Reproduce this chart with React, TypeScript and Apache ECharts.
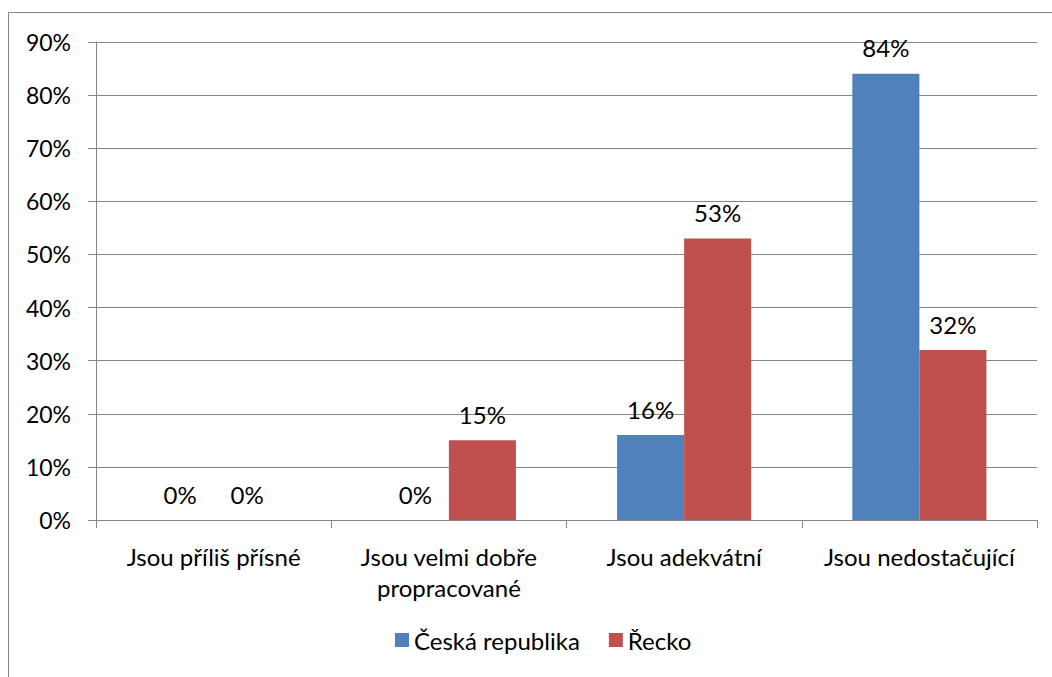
import React, { useEffect, useRef } from "react";
import * as echarts from "echarts";

const categories = [
  "Jsou příliš přísné",
  "Jsou velmi dobře\npropracované",
  "Jsou adekvátní",
  "Jsou nedostačující",
];
const seriesNames = ["Česká republika", "Řecko"];
const czechValues = [0, 0, 16, 84];
const greeceValues = [0, 15, 53, 32];
const seriesColors = ["#4F81BD", "#C0504D"];

const FONT = "Lato, 'Noto Sans', sans-serif";
const LINE = "#868686";

export default function App() {
  const ref = useRef<HTMLDivElement>(null);

  useEffect(() => {
    if (!ref.current) return;
    const chart = echarts.init(ref.current, null, { renderer: "svg" });
    const label = {
      show: true,
      position: "top",
      distance: 14,
      formatter: "{c}%",
      color: "#000",
      fontFamily: FONT,
      fontSize: 24,
      lineHeight: 24,
    };
    chart.setOption({
      animation: false,
      backgroundColor: "#fff",
      textStyle: { fontFamily: FONT },
      graphic: [
        {
          type: "rect",
          shape: { x: 8.5, y: 12.5, width: 1200, height: 800 },
          style: { fill: "none", stroke: LINE, lineWidth: 1 },
          silent: true,
        },
      ],
      grid: { left: 96, top: 42, right: 15, bottom: 157, containLabel: false },
      legend: {
        bottom: 20,
        left: 390,
        itemWidth: 14,
        itemHeight: 14,
        itemGap: 29,
        icon: "rect",
        textStyle: { fontFamily: FONT, fontSize: 24, color: "#000" },
        data: seriesNames,
      },
      xAxis: {
        type: "category",
        data: categories,
        axisLine: { show: true, lineStyle: { color: LINE, width: 1 } },
        axisTick: { show: true, length: 8, lineStyle: { color: LINE } },
        axisLabel: {
          color: "#000",
          fontFamily: FONT,
          fontSize: 24,
          lineHeight: 31,
          margin: 21,
          interval: 0,
        },
      },
      yAxis: {
        type: "value",
        min: 0,
        max: 90,
        interval: 10,
        axisLine: { show: true, lineStyle: { color: LINE, width: 1 } },
        axisTick: { show: true, length: 8, lineStyle: { color: LINE } },
        splitLine: { show: true, lineStyle: { color: LINE, width: 1 } },
        axisLabel: {
          color: "#000",
          fontFamily: FONT,
          fontSize: 23,
          margin: 25,
          formatter: "{value}%",
        },
      },
      series: [
        {
          name: seriesNames[0],
          type: "bar",
          data: czechValues,
          itemStyle: { color: seriesColors[0] },
          barGap: "0%",
          barCategoryGap: "43%",
          label,
        },
        {
          name: seriesNames[1],
          type: "bar",
          data: greeceValues,
          itemStyle: { color: seriesColors[1] },
          barGap: "0%",
          barCategoryGap: "43%",
          label,
        },
      ],
    });
    return () => chart.dispose();
  }, []);

  return (
    <div
      ref={ref}
      style={{ position: "absolute", left: 0, top: 0, width: 1052, height: 677 }}
    />
  );
}
